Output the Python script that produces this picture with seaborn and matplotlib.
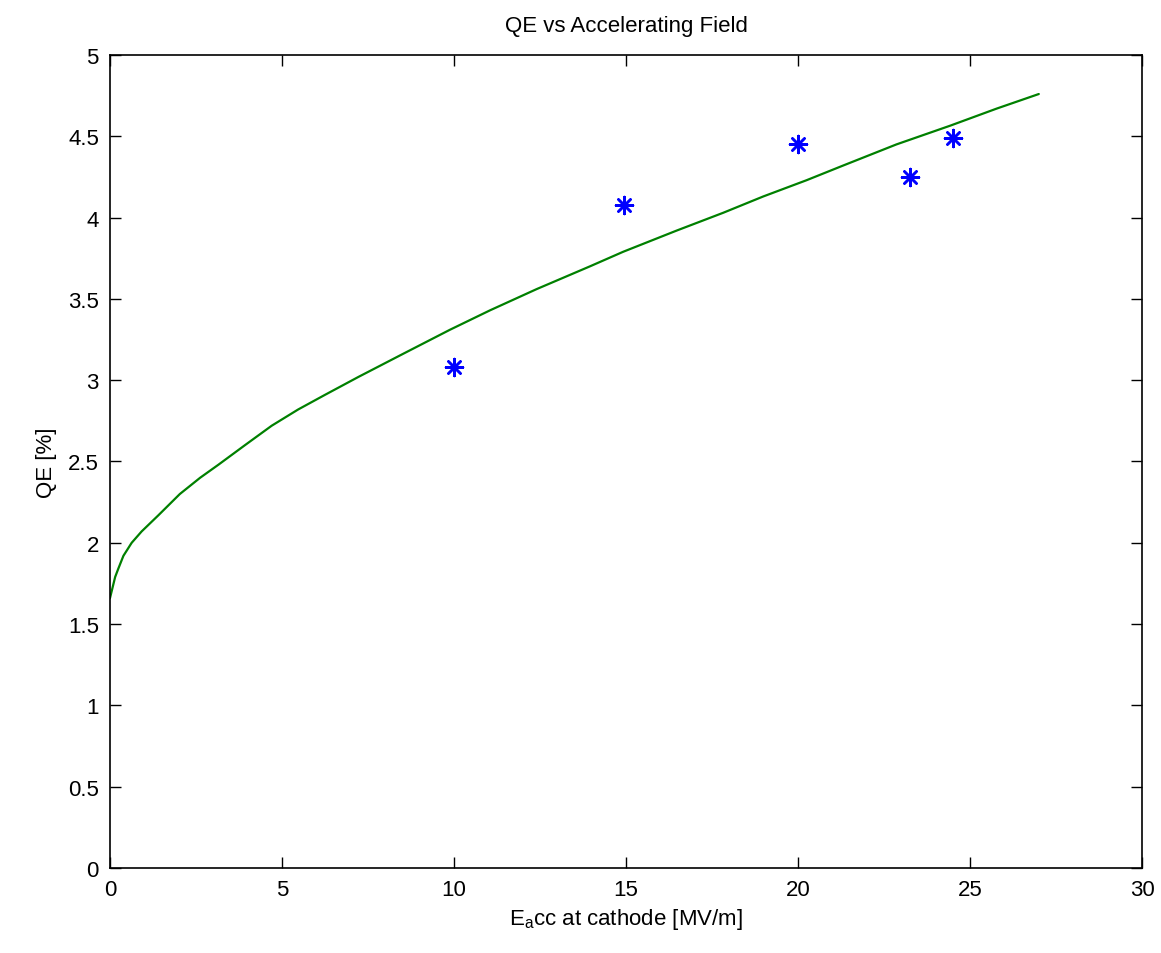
import matplotlib
matplotlib.use("Agg")
import matplotlib.pyplot as plt
import seaborn as sns
import pandas as pd

# Fitted curve
curve_x = [0.0, 0.15, 0.24, 0.39, 0.63, 0.92, 1.41, 2.03, 2.62, 3.15, 3.92, 4.7, 5.47,
           6.25, 7.22, 8.5, 9.88, 11.05, 12.4, 13.95, 14.92, 16.47, 17.83, 18.99, 20.25,
           21.31, 22.86, 24.42, 25.77, 27.0]
curve_y = [1.66, 1.79, 1.84, 1.92, 2.00, 2.07, 2.17, 2.30, 2.40, 2.48, 2.60, 2.72, 2.82,
           2.91, 3.02, 3.16, 3.31, 3.43, 3.56, 3.70, 3.79, 3.92, 4.03, 4.13, 4.23,
           4.32, 4.45, 4.565, 4.67, 4.76]

# Measured points
meas_x = [10.0, 14.95, 20.0, 23.27, 24.5]
meas_y = [3.08, 4.08, 4.45, 4.25, 4.49]

xticks = [0, 5, 10, 15, 20, 25, 30]
yticks = [0, 0.5, 1, 1.5, 2, 2.5, 3, 3.5, 4, 4.5, 5]

sns.set_style("white")
plt.rcParams['font.family'] = ['Liberation Sans', 'DejaVu Sans']
plt.rcParams['mathtext.fontset'] = 'custom'
plt.rcParams['mathtext.rm'] = 'Liberation Sans'
plt.rcParams['mathtext.it'] = 'Liberation Sans'
plt.rcParams['text.color'] = 'black'
plt.rcParams['axes.labelcolor'] = 'black'

fig = plt.figure(figsize=(11.61, 9.54), dpi=100)
ax = fig.add_axes([110/1161, 85/954, 1032/1161, 813/954])

df_c = pd.DataFrame({"x": curve_x, "y": curve_y})
df_m = pd.DataFrame({"x": meas_x, "y": meas_y})

sns.lineplot(data=df_c, x="x", y="y", ax=ax, color=(0, 0.5, 0), linewidth=1.6,
             estimator=None, sort=False)
sns.scatterplot(data=df_m, x="x", y="y", ax=ax, marker=(8, 2, 0), s=150,
                color="blue", edgecolor="blue", linewidth=1.8)

ax.set_xlim(0, 30)
ax.set_ylim(0, 5)
ax.set_xticks(xticks)
ax.set_yticks(yticks)
ax.set_xticklabels([str(t) for t in xticks])
ax.set_yticklabels([("%g" % t) for t in yticks])

for s in ax.spines.values():
    s.set_color("black")
    s.set_linewidth(1.2)
ax.tick_params(direction="in", length=8, width=1, top=True, right=True,
               bottom=True, left=True, labelsize=16, colors="black",
               labelcolor="black", pad=8)

ax.set_title("QE vs Accelerating Field", fontsize=16, pad=17, color="black")
ax.set_xlabel(r"E$_\mathregular{a}$cc at cathode [MV/m]", fontsize=16, labelpad=4)
ax.set_ylabel("QE [%]", fontsize=16, labelpad=8)

fig.savefig("out.png", dpi=100, facecolor="white")
